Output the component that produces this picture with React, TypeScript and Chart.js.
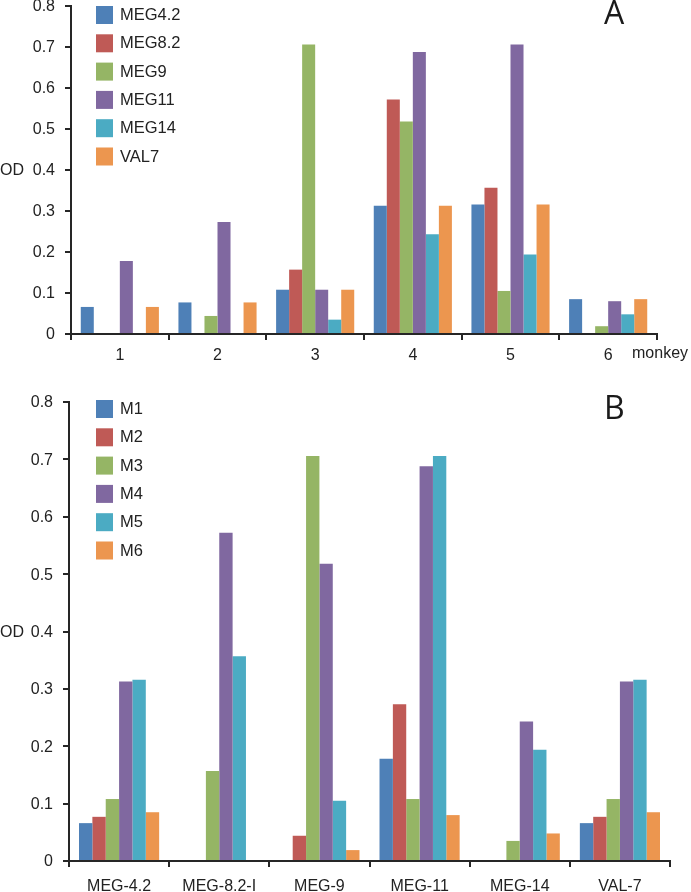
import React, { useEffect, useRef } from "react";
import { Chart, registerables } from "chart.js";

Chart.register(...registerables);

// ---- Data ----
const monkeys = ["1", "2", "3", "4", "5", "6"];
const markers = ["MEG4.2", "MEG8.2", "MEG9", "MEG11", "MEG14", "VAL7"];
const markerLabelsB = ["MEG-4.2", "MEG-8.2-I", "MEG-9", "MEG-11", "MEG-14", "VAL-7"];
const monkeyLabelsB = ["M1", "M2", "M3", "M4", "M5", "M6"];

// OD per marker, for monkeys 1..6
const meg42 = [0.066, 0.077, 0.108, 0.313, 0.316, 0.085];
const meg82 = [0, 0, 0.157, 0.572, 0.357, 0];
const meg9 = [0, 0.044, 0.706, 0.518, 0.105, 0.019];
const meg11 = [0.178, 0.273, 0.108, 0.688, 0.706, 0.08];
const meg14 = [0, 0, 0.035, 0.243, 0.194, 0.048];
const val7 = [0.066, 0.077, 0.108, 0.313, 0.316, 0.085];

const markerValues = [meg42, meg82, meg9, meg11, meg14, val7];
const yTicks = [0, 0.1, 0.2, 0.3, 0.4, 0.5, 0.6, 0.7, 0.8];

const colors = ["#4e80b7", "#bf5a56", "#95b565", "#8068a0", "#4babc3", "#ec964f"];

const FONT = "'Liberation Sans', Arial, sans-serif";
const AXIS = "#262626";

type Cfg = {
  labels: string[];
  seriesNames: string[];
  series: number[][];
  yWidth: number;
  padRight: number;
  padTop: number;
  xHeight: number;
  xPad: number;
  legendTop: number;
  letter: string;
  letterY: number;
  xTitle?: string;
  xTitleY?: number;
};

function makeChart(canvas: HTMLCanvasElement, c: Cfg) {
  const overlay = {
    id: "overlay",
    afterDraw(chart: any) {
      const ctx = chart.ctx as CanvasRenderingContext2D;
      ctx.save();
      // legend
      c.seriesNames.forEach((n, i) => {
        const top = c.legendTop + i * 28.3;
        ctx.fillStyle = colors[i];
        ctx.fillRect(96, top, 17, 18);
        ctx.fillStyle = "#222";
        ctx.font = `16.5px ${FONT}`;
        ctx.textAlign = "left";
        ctx.textBaseline = "middle";
        ctx.fillText(n, 120, top + 9.5);
      });
      // OD label
      const y04 = chart.scales.y.getPixelForValue(0.4);
      ctx.font = `16px ${FONT}`;
      ctx.fillStyle = "#222";
      ctx.textAlign = "left";
      ctx.textBaseline = "middle";
      ctx.fillText("OD", 0, y04 + 1);
      // x title
      if (c.xTitle) {
        ctx.fillText(c.xTitle, 632, c.xTitleY as number);
      }
      // panel letter
      ctx.font = `32px 'Open Sans', 'DejaVu Sans', sans-serif`;
      ctx.textAlign = "left";
      ctx.textBaseline = "alphabetic";
      ctx.fillStyle = "#1a1a1a";
      ctx.fillText(c.letter, 604, c.letterY);
      ctx.restore();
    },
  };

  return new Chart(canvas, {
    type: "bar",
    data: {
      labels: c.labels,
      datasets: c.series.map((vals, i) => ({
        label: c.seriesNames[i],
        data: vals,
        backgroundColor: colors[i],
        borderWidth: 0,
        categoryPercentage: 0.8,
        barPercentage: 1.0,
      })),
    },
    options: {
      animation: false,
      responsive: false,
      maintainAspectRatio: false,
      layout: { padding: { left: 0, right: c.padRight, top: c.padTop, bottom: 0 } },
      plugins: { legend: { display: false }, tooltip: { enabled: false }, title: { display: false } },
      scales: {
        x: {
          grid: {
            display: true,
            drawOnChartArea: false,
            drawTicks: true,
            tickLength: 6,
            color: AXIS,
            lineWidth: 2,
            offset: true,
          },
          border: { display: true, color: AXIS, width: 2 },
          ticks: { color: "#222", font: { family: FONT, size: 16 }, padding: c.xPad, maxRotation: 0 },
          afterFit: (s: any) => {
            s.height = c.xHeight;
            s.paddingLeft = 0;
            s.paddingRight = 0;
          },
        },
        y: {
          min: 0,
          max: 0.8,
          afterBuildTicks: (s: any) => {
            s.ticks = yTicks.map((v) => ({ value: v }));
          },
          grid: {
            display: true,
            drawOnChartArea: false,
            drawTicks: true,
            tickLength: 6,
            color: AXIS,
            lineWidth: 2,
          },
          border: { display: true, color: AXIS, width: 2 },
          ticks: {
            color: "#222",
            font: { family: FONT, size: 16 },
            padding: 10,
            labelOffset: 1,
            callback: (v: any) => (Number(v) === 0 ? "0" : Number(v).toFixed(1)),
          },
          afterFit: (s: any) => {
            s.width = c.yWidth;
            s.paddingTop = 0;
            s.paddingBottom = 0;
          },
        },
      },
    },
    plugins: [overlay],
  });
}

export default function App() {
  const refA = useRef<HTMLCanvasElement>(null);
  const refB = useRef<HTMLCanvasElement>(null);

  useEffect(() => {
    const a = makeChart(refA.current as HTMLCanvasElement, {
      labels: monkeys,
      seriesNames: markers,
      series: markerValues,
      yWidth: 71,
      padRight: 34,
      padTop: 6,
      xHeight: 392 - 334,
      xPad: 6,
      legendTop: 6,
      letter: "A",
      letterY: 24,
      xTitle: "monkey",
      xTitleY: 354,
    });
    const seriesB = monkeys.map((_, mi) => markerValues.map((mv) => mv[mi]));
    const b = makeChart(refB.current as HTMLCanvasElement, {
      labels: markerLabelsB,
      seriesNames: monkeyLabelsB,
      series: seriesB,
      yWidth: 69,
      padRight: 21,
      padTop: 402 - 388,
      xHeight: 504 - (861 - 388),
      xPad: 10,
      legendTop: 400 - 388,
      letter: "B",
      letterY: 419 - 388,
    });
    return () => {
      a.destroy();
      b.destroy();
    };
  }, []);

  return (
    <div style={{ position: "absolute", left: 0, top: 0, width: 691, height: 892, background: "#fff" }}>
      <canvas ref={refA} width={691} height={392} style={{ position: "absolute", left: 0, top: 0, width: 691, height: 392 }} />
      <canvas ref={refB} width={691} height={504} style={{ position: "absolute", left: 0, top: 388, width: 691, height: 504 }} />
    </div>
  );
}
